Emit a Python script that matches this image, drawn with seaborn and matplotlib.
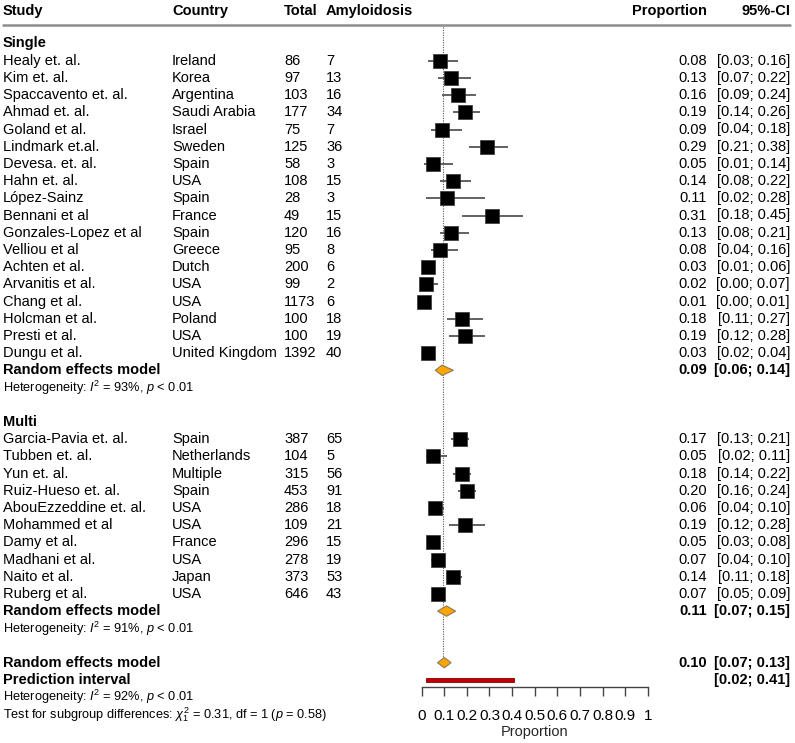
import numpy as np
import pandas as pd
import matplotlib
matplotlib.use("Agg")
import matplotlib.pyplot as plt
import matplotlib.transforms as mtransforms
from matplotlib.patches import Polygon, Rectangle
from matplotlib.lines import Line2D
import seaborn as sns

# ---------------- data ----------------
single_study = ["Healy et. al.", "Kim et. al.", "Spaccavento et. al.", "Ahmad et. al.",
                "Goland et al.", "Lindmark et.al.", "Devesa. et. al.", "Hahn et. al.",
                "López-Sainz", "Bennani et al", "Gonzales-Lopez et al", "Velliou et al",
                "Achten et al.", "Arvanitis et al.", "Chang et al.", "Holcman et al.",
                "Presti et al.", "Dungu et al."]
single_country = ["Ireland", "Korea", "Argentina", "Saudi Arabia", "Israel", "Sweden",
                  "Spain", "USA", "Spain", "France", "Spain", "Greece", "Dutch", "USA",
                  "USA", "Poland", "USA", "United Kingdom"]
single_total = [86, 97, 103, 177, 75, 125, 58, 108, 28, 49, 120, 95, 200, 99, 1173, 100, 100, 1392]
single_events = [7, 13, 16, 34, 7, 36, 3, 15, 3, 15, 16, 8, 6, 2, 6, 18, 19, 40]
single_prop = [0.08, 0.13, 0.16, 0.19, 0.09, 0.29, 0.05, 0.14, 0.11, 0.31, 0.13, 0.08,
               0.03, 0.02, 0.01, 0.18, 0.19, 0.03]
single_lo = [0.03, 0.07, 0.09, 0.14, 0.04, 0.21, 0.01, 0.08, 0.02, 0.18, 0.08, 0.04,
             0.01, 0.00, 0.00, 0.11, 0.12, 0.02]
single_hi = [0.16, 0.22, 0.24, 0.26, 0.18, 0.38, 0.14, 0.22, 0.28, 0.45, 0.21, 0.16,
             0.06, 0.07, 0.01, 0.27, 0.28, 0.04]
single_re = (0.09, 0.06, 0.14)
single_het = r"Heterogeneity: $I^2$ = 93%, $p$ < 0.01"

multi_study = ["Garcia-Pavia et. al.", "Tubben et. al.", "Yun et. al.", "Ruiz-Hueso et. al.",
               "AbouEzzeddine et. al.", "Mohammed et al", "Damy et al.", "Madhani et al.",
               "Naito et al.", "Ruberg et al."]
multi_country = ["Spain", "Netherlands", "Multiple", "Spain", "USA", "USA", "France",
                 "USA", "Japan", "USA"]
multi_total = [387, 104, 315, 453, 286, 109, 296, 278, 373, 646]
multi_events = [65, 5, 56, 91, 18, 21, 15, 19, 53, 43]
multi_prop = [0.17, 0.05, 0.18, 0.20, 0.06, 0.19, 0.05, 0.07, 0.14, 0.07]
multi_lo = [0.13, 0.02, 0.14, 0.16, 0.04, 0.12, 0.03, 0.04, 0.11, 0.05]
multi_hi = [0.21, 0.11, 0.22, 0.24, 0.10, 0.28, 0.08, 0.10, 0.18, 0.09]
multi_re = (0.11, 0.07, 0.15)
multi_het = r"Heterogeneity: $I^2$ = 91%, $p$ < 0.01"

overall_re = (0.10, 0.07, 0.13)
ref_line = 0.093
pred_interval = (0.02, 0.41)
overall_het = r"Heterogeneity: $I^2$ = 92%, $p$ < 0.01"
subgroup_test = r"Test for subgroup differences: $\chi^2_1$ = 0.31, df = 1 ($p$ = 0.58)"

xticks = [0, 0.1, 0.2, 0.3, 0.4, 0.5, 0.6, 0.7, 0.8, 0.9, 1]
xtick_labels = ["0", "0.1", "0.2", "0.3", "0.4", "0.5", "0.6", "0.7", "0.8", "0.9", "1"]

headers = ["Study", "Country", "Total", "Amyloidosis", "Proportion", "95%-CI"]

# ---------------- style ----------------
sns.set_theme(style="white")
plt.rcParams["font.family"] = ["Liberation Sans", "DejaVu Sans"]
plt.rcParams["mathtext.fontset"] = "custom"
plt.rcParams["mathtext.rm"] = "Liberation Sans"
plt.rcParams["mathtext.it"] = "Liberation Sans:italic"
plt.rcParams["mathtext.bf"] = "Liberation Sans:bold"

W, H = 795, 743
fig = plt.figure(figsize=(W / 100, H / 100), dpi=100)

# layout in pixels
x0_px, x1_px = 421.7, 647.7
top_px, bot_px = 24.5, 687.0
row0_px, row_h = 43.5, 17.2
ax = fig.add_axes([x0_px / W, 1 - bot_px / H, (x1_px - x0_px) / W, (bot_px - top_px) / H])
ax.set_xlim(0, 1)
ax.set_ylim((bot_px - row0_px) / row_h, (top_px - row0_px) / row_h)

tr = mtransforms.blended_transform_factory(fig.transFigure, ax.transData)
FS = 10.5
FS_SMALL = 9.2
col_x = {"study": 3, "country": 172, "total": 284, "events": 326, "prop": 707, "ci": 790}


def txt(xpx, row, s, ha="left", weight="normal", size=FS):
    ax.text(xpx / W, row, s, transform=tr, ha=ha, va="center", fontsize=size,
            fontweight=weight, color="black", clip_on=False)


# headers
hdr_row = -1.9
txt(col_x["study"], hdr_row, headers[0], weight="bold")
txt(col_x["country"], hdr_row, headers[1], weight="bold")
txt(col_x["total"], hdr_row, headers[2], weight="bold")
txt(col_x["events"], hdr_row, headers[3], weight="bold")
txt(col_x["prop"], hdr_row, headers[4], ha="right", weight="bold")
txt(col_x["ci"], hdr_row, headers[5], ha="right", weight="bold")
fig.add_artist(Line2D([3 / W, 790 / W], [1 - top_px / H, 1 - top_px / H],
                      color="#8c8c8c", lw=1.8))

# reference dotted line
ax.plot([ref_line, ref_line], [-0.95, 36], ls=(0, (1, 1.2)), color="#555555",
        lw=0.8, zorder=1, clip_on=False)


def diamond(est, row):
    m, lo, hi = est
    hh = 0.3
    ax.add_patch(Polygon([[lo, row], [m, row - hh], [hi, row], [m, row + hh]],
                         closed=True, facecolor="#FFA500", edgecolor="#8a7a5a",
                         lw=0.8, zorder=4, clip_on=False))
    txt(col_x["prop"], row, f"{m:.2f}", ha="right", weight="bold")
    txt(col_x["ci"], row, f"[{lo:.2f}; {hi:.2f}]", ha="right", weight="bold")


def group(name, start, study, country, total, events, prop, lo, hi, re, het):
    txt(col_x["study"], start, name, weight="bold")
    rows = np.arange(start + 1, start + 1 + len(study))
    df = pd.DataFrame({"prop": prop, "row": rows, "lo": lo, "hi": hi})
    ax.hlines(df["row"], df["lo"], df["hi"], color="#555555", lw=1.3, zorder=2,
              clip_on=False)
    sns.scatterplot(data=df, x="prop", y="row", marker="s", s=88, color="black",
                    edgecolor="#333333", linewidth=0.5, ax=ax, zorder=3, legend=False,
                    clip_on=False)
    for r, s_, c_, t_, e_, p_, l_, h_ in zip(rows, study, country, total, events,
                                              prop, lo, hi):
        txt(col_x["study"], r, s_)
        txt(col_x["country"], r, c_)
        txt(col_x["total"], r, str(t_))
        txt(col_x["events"], r, str(e_))
        txt(col_x["prop"], r, f"{p_:.2f}", ha="right")
        txt(col_x["ci"], r, f"[{l_:.2f}; {h_:.2f}]", ha="right")
    re_row = rows[-1] + 1
    txt(col_x["study"], re_row, "Random effects model", weight="bold")
    diamond(re, re_row)
    txt(col_x["study"], re_row + 1.05, het, size=FS_SMALL)
    return re_row + 3


nxt = group("Single", 0, single_study, single_country, single_total, single_events,
            single_prop, single_lo, single_hi, single_re, single_het)
nxt = group("Multi", nxt, multi_study, multi_country, multi_total, multi_events,
            multi_prop, multi_lo, multi_hi, multi_re, multi_het)

ov_row = nxt
txt(col_x["study"], ov_row, "Random effects model", weight="bold")
diamond(overall_re, ov_row)
pi_row = ov_row + 1
txt(col_x["study"], pi_row, "Prediction interval", weight="bold")
ax.add_patch(Rectangle((pred_interval[0], pi_row - 0.12), pred_interval[1] - pred_interval[0],
                       0.24, facecolor="#C00000", edgecolor="#8B0000", lw=0.6,
                       zorder=4, clip_on=False))
txt(col_x["ci"], pi_row, f"[{pred_interval[0]:.2f}; {pred_interval[1]:.2f}]",
    ha="right", weight="bold")
txt(col_x["study"], pi_row + 1.0, overall_het, size=FS_SMALL)
txt(col_x["study"], pi_row + 2.0, subgroup_test, size=FS_SMALL)

# axis
for sp in ["top", "right", "left"]:
    ax.spines[sp].set_visible(False)
ax.spines["bottom"].set_color("#444444")
ax.spines["bottom"].set_linewidth(1.0)
ax.spines["bottom"].set_bounds(0, 1)
ax.set_yticks([])
ax.set_xticks(xticks)
ax.set_xticklabels(xtick_labels, fontsize=11)
ax.tick_params(axis="x", direction="out", length=6.5, width=1.0, color="#444444",
               pad=9, labelcolor="black", bottom=True)
ax.set_xlabel("Proportion", fontsize=FS, labelpad=2)
ax.set_ylabel("")
ax.patch.set_alpha(0)

fig.savefig("out.png", dpi=100)
